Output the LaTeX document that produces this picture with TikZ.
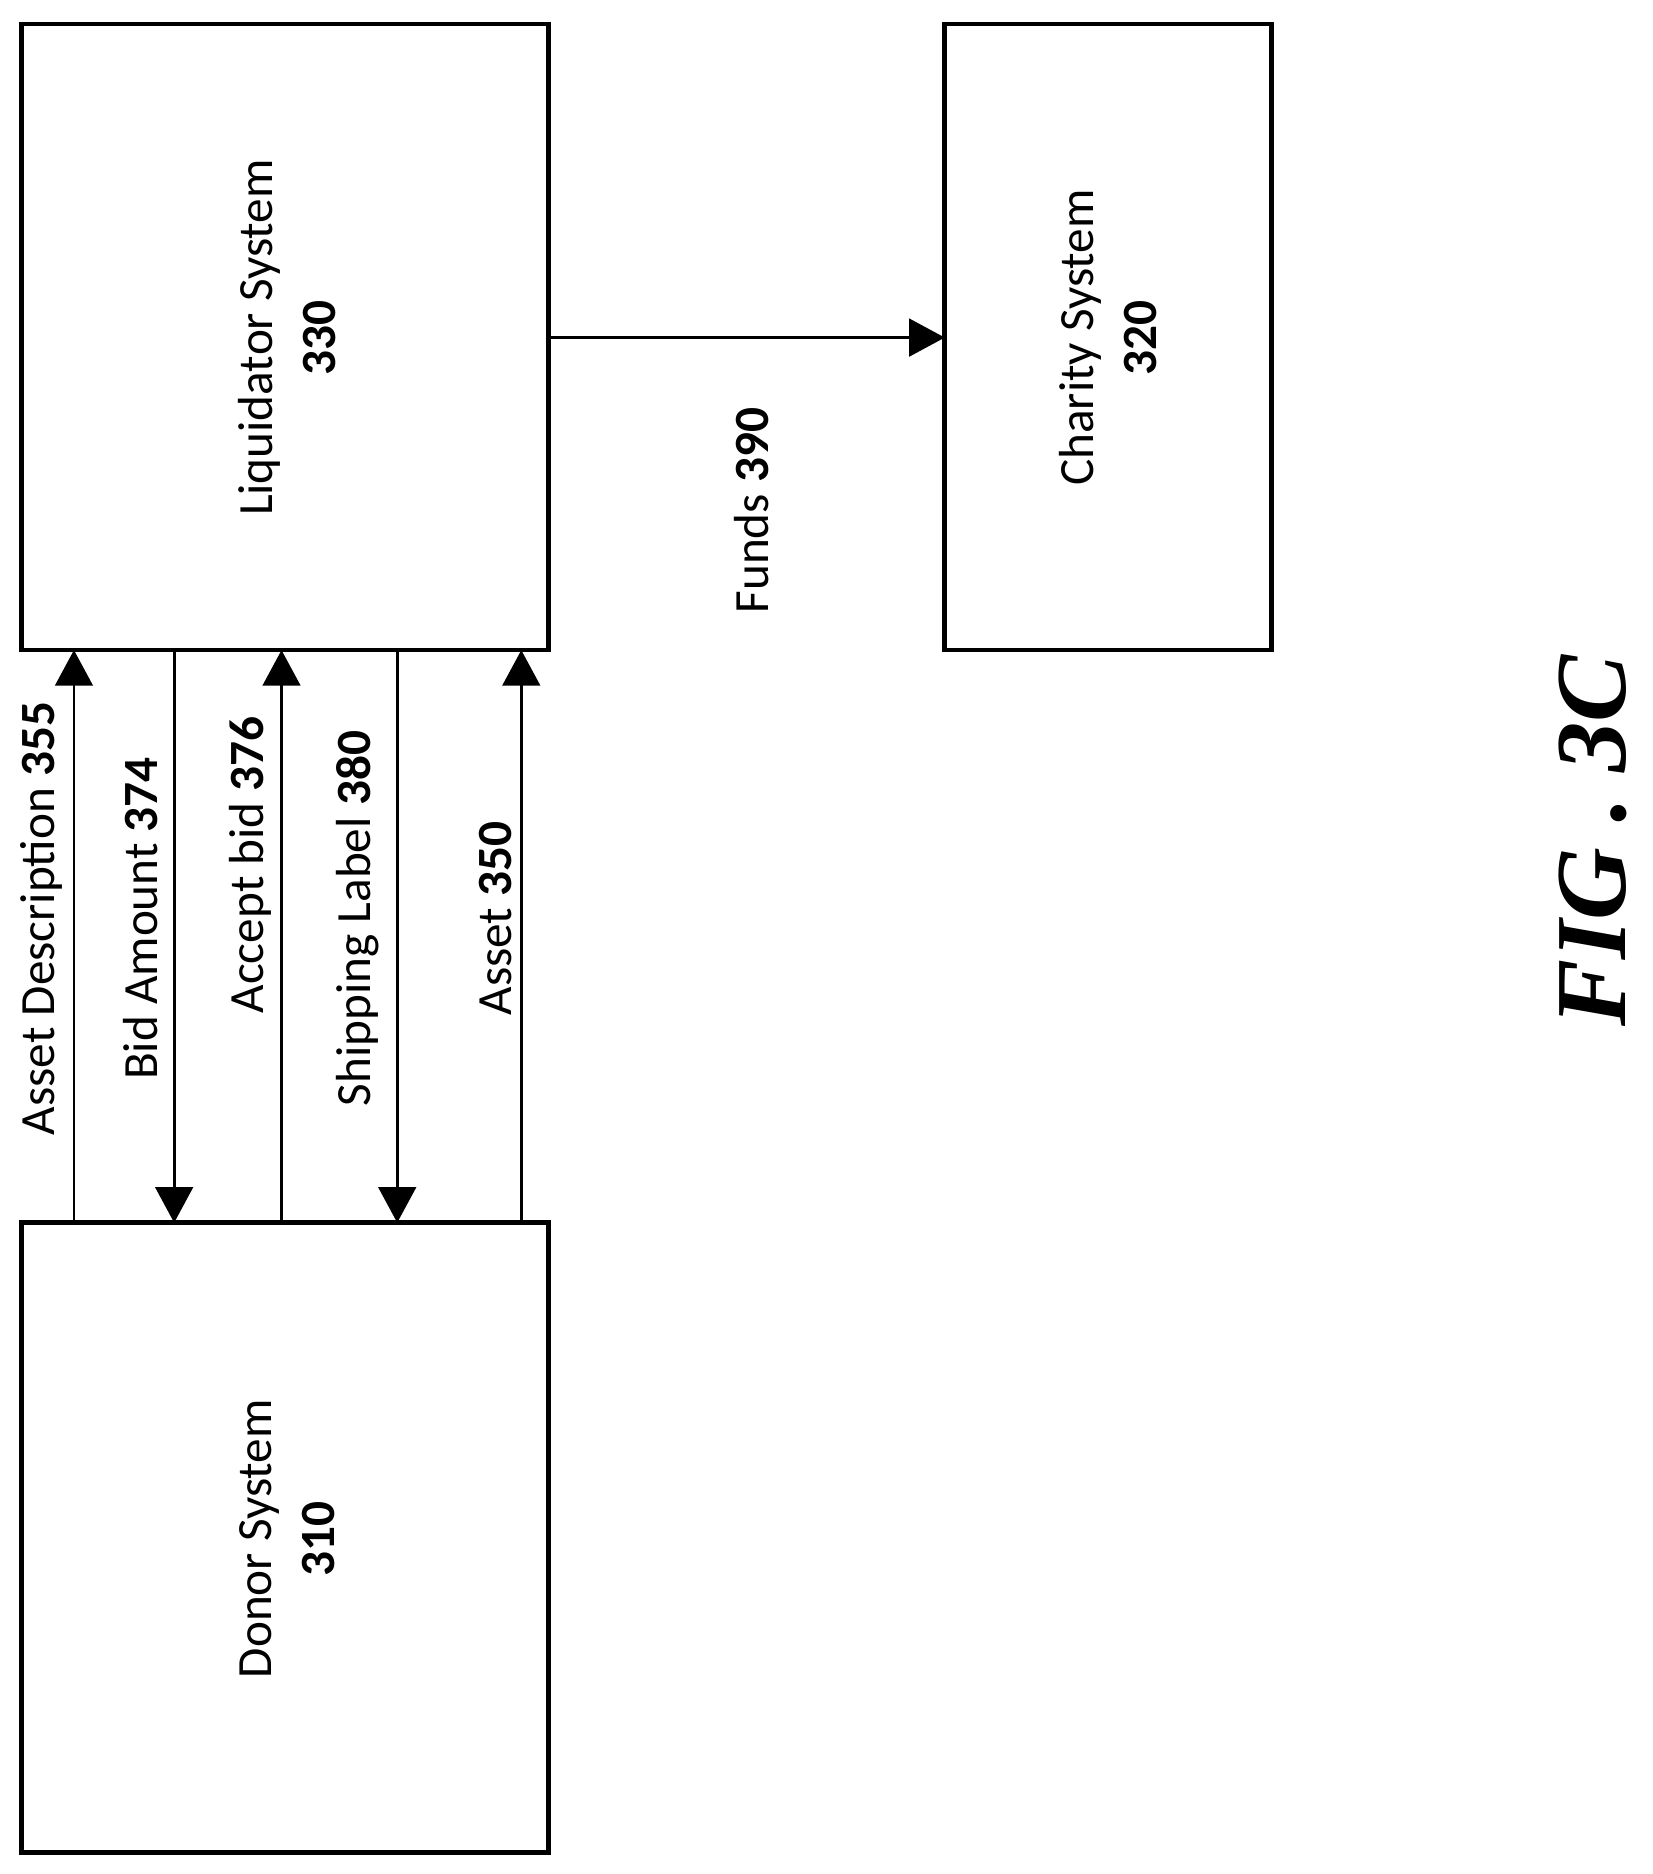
\documentclass[tikz,border=0pt]{standalone}
\usepackage{fontspec}
\setmainfont{Carlito}
\usetikzlibrary{arrows.meta}
\begin{document}
\begin{tikzpicture}[x=0.02cm,y=-0.02cm,
  box/.style={draw,line width=2.2pt},
  arr/.style={line width=1.3pt,-{Triangle[length=17pt,width=18pt]}},
  lbl/.style={rotate=90,font=\fontsize{23.5}{28}\selectfont,inner sep=0pt},
  btxt/.style={rotate=90,font=\fontsize{23.5}{30}\selectfont,align=center}]
\useasboundingbox (0,0) rectangle (1385,1571);
\draw[box] (18,20) rectangle (460,545);
\draw[box] (792,20) rectangle (1066,545);
\draw[box] (18,1025) rectangle (460,1553);
\coordinate (L) at (460,283); \coordinate (C) at (792,283);
\node[btxt] (lt) at (241,283) {Liquidator System\\\textbf{330}};
\node[btxt] (ct) at (929,283) {Charity System\\\textbf{320}};
\node[btxt] (dt) at (241,1290) {Donor System\\\textbf{310}};
\draw[arr] (L) -- (C);
\node[lbl] (fl) at (630,428) {Funds \textbf{390}};
\foreach \x in {62,146,236,333,437}{
  \coordinate (t\x) at (\x,545); \coordinate (b\x) at (\x,1025);
}
\draw[arr] (b62) -- (t62);
\draw[arr] (t146) -- (b146);
\draw[arr] (b236) -- (t236);
\draw[arr] (t333) -- (b333);
\draw[arr] (b437) -- (t437);
\node[lbl] at (35,770) {Asset Description \textbf{355}};
\node[lbl] at (118,770) {Bid Amount \textbf{374}};
\node[lbl] at (210,725) {Accept bid \textbf{376}};
\node[lbl] at (300,770) {Shipping Label\ \textbf{380}};
\node[lbl] at (415,770) {Asset \textbf{350}};
\node[rotate=90,inner sep=0pt] (fig) at (1335,705) {\fontsize{48}{50}\selectfont\fontspec{Liberation Serif}\bfseries\itshape FIG . 3C};
\end{tikzpicture}
\end{document}
